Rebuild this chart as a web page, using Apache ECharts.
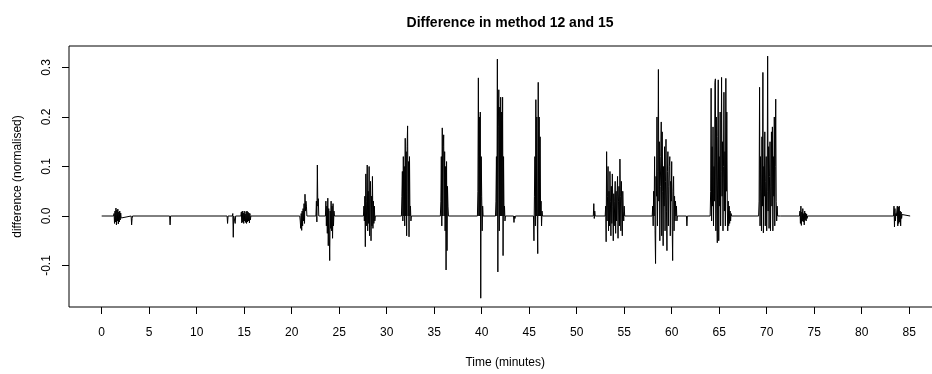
<!DOCTYPE html>
<html>
<head>
<meta charset="utf-8">
<script src="https://cdn.jsdelivr.net/npm/echarts@6/dist/echarts.min.js"></script>
<style>
  html, body { margin: 0; padding: 0; background: #fff; }
  #chart { width: 932px; height: 374px; }
</style>
</head>
<body>
<div id="chart"></div>
<script>
// Difference trace (method 12 vs 15).
// The signal is flat at zero apart from bursts; each burst is a run of
// samples taken SAMPLE_STEP minutes apart starting at burstStart[k].
var SAMPLE_STEP = 0.05;
var TRACE_END = 85.1;

var burstStart = [1.3, 3.15, 7.2, 13.25, 13.8, 14.05, 14.7, 20.9, 22.6, 23.6,
  27.6, 31.6, 35.7, 39.6, 41.5, 43.4, 45.5, 51.8, 53.05, 58.0,
  61.6, 64.1, 69.2, 71.5, 73.5, 83.4];

var burstValues = [
  [0.005, -0.015, 0.01, -0.012, 0.016, -0.018, 0.012, -0.01, 0.014, -0.016, 0.008, -0.012, 0.01, -0.008, 0.006, -0.004],
  [-0.018, -0.005],
  [-0.018],
  [-0.015],
  [0.005, -0.043],
  [-0.015],
  [0.008, -0.014, 0.01, -0.012, 0.006, -0.015, 0.01, -0.01, 0.004, -0.013, 0.009, -0.015, 0.01, -0.012, 0.008, -0.01, 0.006, -0.014, 0.005, -0.008],
  [-0.01, -0.025, 0.005, -0.029, 0.01, -0.02, 0.015, -0.01, 0.025, -0.015, 0.044, 0.01, 0.03, 0.02],
  [0.03, -0.012, 0.103, 0.02, 0.035, 0.0],
  [0.03, -0.02, 0.02, -0.035, 0.036, -0.06, 0.015, -0.03, -0.09, 0.01, -0.025, 0.03, -0.03, 0.02, -0.045, 0.025, -0.02, 0.01],
  [0.02, -0.01, 0.04, -0.062, 0.085, -0.02, 0.03, 0.103, -0.03, 0.05, -0.015, 0.1, -0.04, 0.035, 0.07, -0.05, 0.04, -0.02, 0.08, -0.025, 0.03, -0.015, 0.02, -0.01],
  [0.04, 0.09, -0.01, 0.12, 0.0, 0.1, -0.02, 0.157, 0.0, 0.13, -0.04, 0.14, 0.182, 0.0, 0.11, -0.042, 0.12, 0.0, 0.02, -0.01],
  [0.03, 0.12, -0.02, 0.178, 0.0, 0.14, 0.164, 0.0, 0.13, -0.03, 0.1, -0.109, 0.11, -0.07, 0.06, 0.02],
  [0.05, 0.279, 0.0, 0.2, 0.0, 0.21, -0.166, 0.12, 0.04, -0.03, 0.02, 0.0],
  [0.03, 0.12, 0.0, 0.317, -0.113, 0.18, 0.255, -0.03, 0.22, 0.0, 0.24, 0.0, 0.21, 0.0, 0.24, -0.08, 0.12, 0.0, 0.02, -0.01],
  [-0.013, 0.0, -0.005],
  [-0.05, 0.04, 0.12, -0.02, 0.235, 0.0, 0.2, 0.0, -0.076, 0.27, 0.0, 0.2, 0.0, 0.16, 0.0, 0.03, -0.02, 0.01],
  [0.025, -0.005, 0.01],
  [0.02, -0.052, 0.13, -0.01, 0.04, 0.1, -0.03, 0.05, -0.02, 0.09, 0.03, -0.04, 0.06, -0.015, 0.085, 0.02, -0.05, 0.045, -0.02, 0.03,
   0.07, -0.035, 0.05, -0.01, 0.04, 0.08, -0.045, 0.03, 0.06, -0.02, 0.115, 0.04, -0.03, 0.07, 0.02, -0.04, 0.05, 0.01, -0.01, 0.02],
  [0.02, -0.02, 0.05, 0.0, 0.12, -0.03, -0.096, 0.08, 0.04, 0.2, -0.02, 0.09, 0.296, 0.03, 0.15, -0.05, 0.06, 0.12, 0.19, -0.04,
   0.17, 0.05, -0.06, 0.1, 0.02, 0.14, -0.03, 0.07, 0.155, 0.01, -0.07, 0.09, 0.13, -0.02, 0.06, 0.1, 0.12, -0.04, 0.07, 0.03,
   0.11, -0.02, -0.09, 0.05, 0.08, -0.03, 0.04, -0.01, 0.03, 0.0, 0.02, -0.01],
  [-0.02, 0.0, 0.003],
  [0.05, 0.258, -0.01, 0.14, 0.02, 0.18, -0.02, 0.1, 0.03, 0.27, 0.277, -0.03, 0.2, 0.02, -0.054, 0.16, 0.275, -0.05, 0.12, 0.02,
   0.21, -0.02, 0.09, 0.28, 0.04, 0.15, -0.03, 0.1, 0.25, 0.01, 0.13, -0.02, 0.278, 0.05, 0.21, 0.02, -0.03, 0.03, -0.02, 0.02,
   -0.015, 0.01, -0.01, 0.005],
  [0.03, 0.26, -0.02, 0.12, 0.05, -0.03, 0.16, 0.02, 0.29, -0.034, 0.1, 0.04, 0.17, -0.02, 0.07, 0.12, -0.03, 0.05, 0.323, 0.01,
   0.14, -0.025, 0.08, 0.15, -0.03, 0.06, 0.17, 0.02, 0.18, -0.03, 0.12, 0.04, 0.2, -0.02, 0.1, 0.236, 0.03, -0.01, 0.02, 0.0],
  [0.003, -0.003, 0.003],
  [0.01, -0.015, 0.02, -0.019, 0.008, -0.01, 0.015, -0.012, 0.005, -0.018, 0.01, -0.008, 0.006, -0.01, 0.004, -0.005],
  [0.02, -0.022, 0.015, -0.01, 0.005, 0.0, 0.0, 0.02, -0.02, 0.018, -0.015, 0.02, -0.012, 0.01, -0.02, 0.008, -0.005, 0.003]
];

var xTicks = [0, 5, 10, 15, 20, 25, 30, 35, 40, 45, 50, 55, 60, 65, 70, 75, 80, 85];
var yTicks = [-0.1, 0, 0.1, 0.2, 0.3];

// --- build the trace ---------------------------------------------------------
var trace = [[0, 0]];
burstStart.forEach(function (t0, k) {
  var vals = burstValues[k];
  trace.push([+(t0 - SAMPLE_STEP).toFixed(3), 0]);
  vals.forEach(function (v, i) {
    trace.push([+(t0 + i * SAMPLE_STEP).toFixed(3), v]);
  });
  trace.push([+(t0 + vals.length * SAMPLE_STEP).toFixed(3), 0]);
});
trace.push([TRACE_END, 0]);

var FONT = '"Liberation Sans", Arial, Helvetica, sans-serif';

var chart = echarts.init(document.getElementById('chart'), null, { renderer: 'canvas' });
chart.setOption({
  backgroundColor: '#fff',
  animation: false,
  title: {
    text: 'Difference in method 12 and 15',
    left: 505,
    top: 11,
    textAlign: 'center',
    textStyle: { fontFamily: FONT, fontSize: 14, fontWeight: 'bold', color: '#000' }
  },
  grid: {
    left: 69, top: 46, width: 872.5, height: 261,
    show: true, borderColor: '#000', borderWidth: 1,
    outerBoundsMode: 'none'
  },
  xAxis: {
    type: 'value',
    min: -3.442,
    max: 88.4,
    name: 'Time (minutes)',
    nameLocation: 'middle',
    nameGap: 50,
    nameTextStyle: { fontFamily: FONT, fontSize: 12, color: '#000' },
    axisLine: { show: false, onZero: false },
    axisTick: { show: true, customValues: xTicks, length: 7, lineStyle: { color: '#000' } },
    axisLabel: { customValues: xTicks, margin: 20, fontFamily: FONT, fontSize: 12, color: '#000' },
    splitLine: { show: false }
  },
  yAxis: {
    type: 'value',
    min: -0.1838,
    max: 0.3434,
    name: 'difference (normalised)',
    nameLocation: 'middle',
    nameGap: 45,
    nameTextStyle: { fontFamily: FONT, fontSize: 12, color: '#000' },
    axisLine: { show: false, onZero: false },
    axisTick: { show: true, customValues: yTicks, length: 7, lineStyle: { color: '#000' } },
    axisLabel: {
      customValues: yTicks, margin: 16, rotate: 90,
      fontFamily: FONT, fontSize: 12, color: '#000',
      formatter: function (v) { return v.toFixed(1); }
    },
    splitLine: { show: false }
  },
  series: [{
    type: 'line',
    data: trace,
    symbol: 'none',
    sampling: null,
    lineStyle: { color: '#000', width: 1 },
    silent: true
  }]
});
</script>
</body>
</html>
